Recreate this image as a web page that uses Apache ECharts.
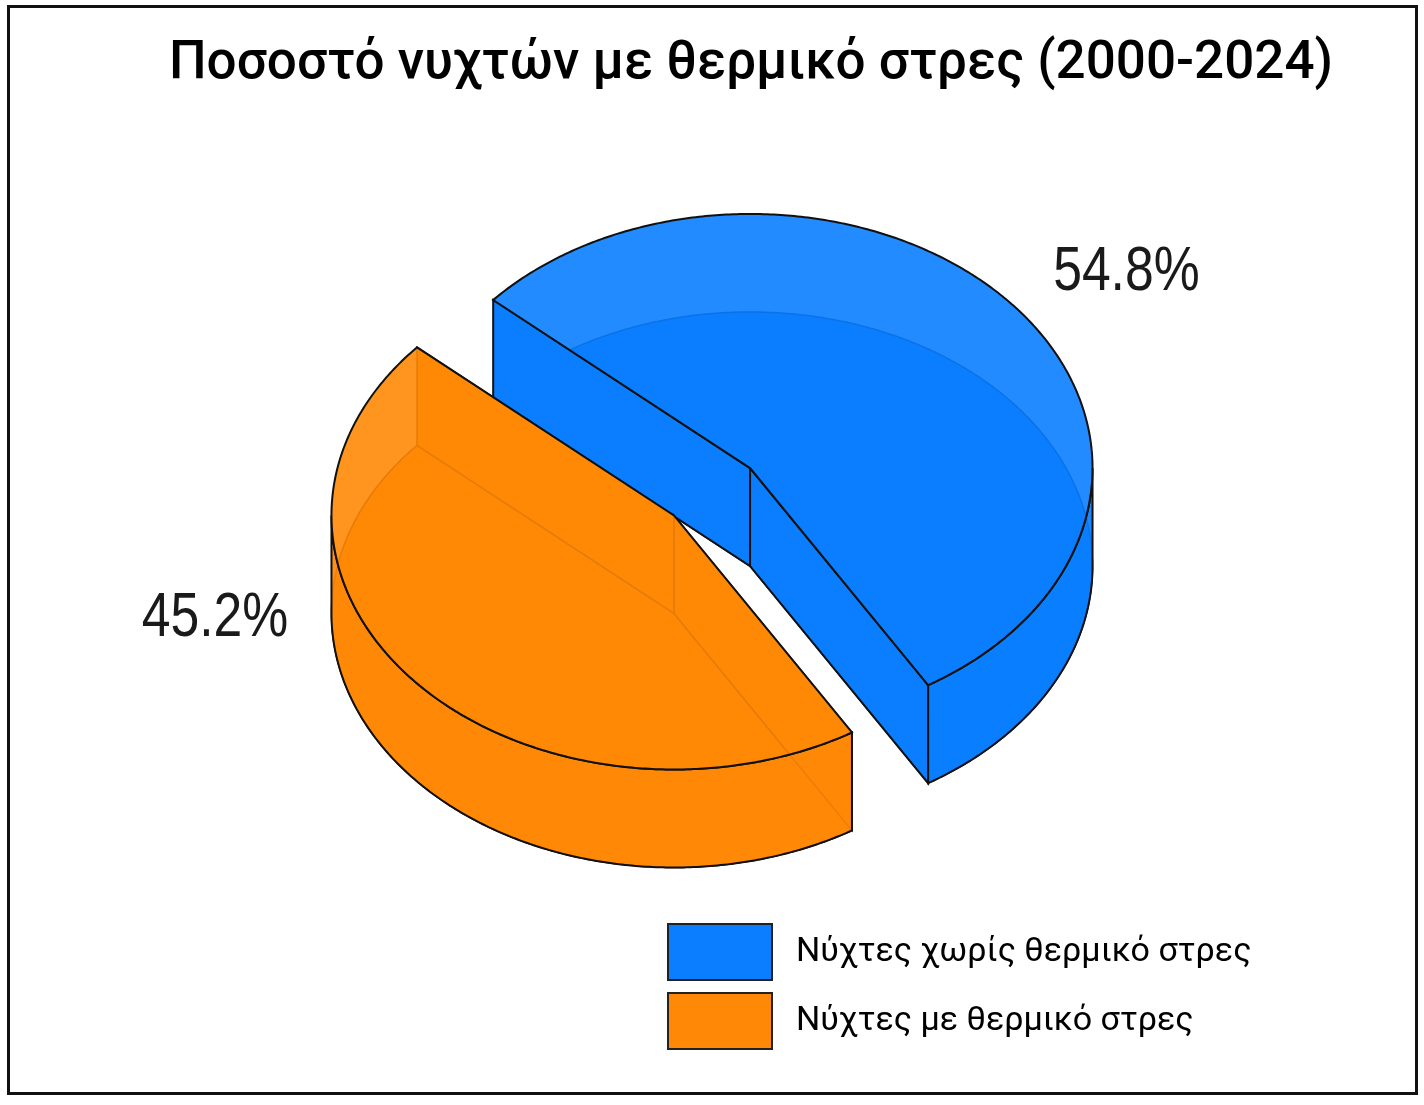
<!DOCTYPE html>
<html lang="el">
<head>
    <meta charset="utf-8" />
    <title>Ποσοστό νυχτών με θερμικό στρες</title>
    <script src="https://cdn.jsdelivr.net/npm/echarts@6/dist/echarts.min.js"></script>
    <style>
        html, body { margin: 0; padding: 0; background: #fff; }
        #box { width: 1424px; height: 1105px; }
        #frame { position: absolute; left: 7px; top: 5px; width: 1405px; height: 1084px; border: 3px solid #111; pointer-events: none; }
    </style>
</head>
<body>
<div id="box"></div>
<div id="frame"></div>
<script>
    // 数据
    var categories = ['Νύχτες χωρίς θερμικό στρες', 'Νύχτες με θερμικό στρες'];
    var values = [54.8, 45.2];
    var labels = ['54.8%', '45.2%'];
    var colors = ['#0a7eff', '#ff8806'];

    var startDeg = 221.4;   // 起始角度 (屏幕坐标, 顺时针)
    var explode = 0.145;    // 分离距离
    var labelAnchor = [[0.791, 0.247], [0.151, 0.56]];

    var total = values.reduce(function (a, b) { return a + b; }, 0);

    function renderSlice(params, api) {
        var i = params.seriesIndex;
        var W = api.getWidth(), H = api.getHeight();
        var cx = W * 0.5, cy = H * 0.445;
        var rx = W * 0.2405, ry = rx * 0.742, depth = 98;
        var before = 0;
        for (var k = 0; k < i; k++) before += values[k];
        var a0 = (startDeg + before / total * 360) * Math.PI / 180;
        var a1 = a0 + api.value(0) / total * 2 * Math.PI;
        var mid = (a0 + a1) / 2;
        var sx = cx + explode * rx * Math.cos(mid);
        var sy = cy + explode * ry * Math.sin(mid);
        var col = colors[i];

        function P(a, z) { return [sx + rx * Math.cos(a), sy + ry * Math.sin(a) + z]; }
        function arc(from, to, z) {
            var pts = [], n = Math.max(2, Math.ceil(Math.abs(to - from) / 0.01));
            for (var j = 0; j <= n; j++) pts.push(P(from + (to - from) * j / n, z));
            return pts;
        }
        function cutFace(a) {
            return [[sx, sy], P(a, 0), P(a, depth), [sx, sy + depth]];
        }

        var children = [];
        // 底面 + 背面 (被顶面半透明遮住)
        children.push({
            type: 'polygon', shape: { points: [[sx, sy + depth]].concat(arc(a0, a1, depth)) },
            style: { fill: col, stroke: '#000', lineWidth: 1.5 }
        });
        var face0Visible = Math.cos(a0) < 0;
        var face1Visible = Math.cos(a1) > 0;
        if (!face0Visible) children.push({ type: 'polygon', shape: { points: cutFace(a0) }, style: { fill: col, stroke: '#000', lineWidth: 1.5 } });
        if (!face1Visible) children.push({ type: 'polygon', shape: { points: cutFace(a1) }, style: { fill: col, stroke: '#000', lineWidth: 1.5 } });

        // 侧面 (只画朝前的部分)
        var step = Math.PI;
        var bounds = [a0];
        for (var b = Math.ceil(a0 / step) * step; b < a1; b += step) if (b > a0) bounds.push(b);
        bounds.push(a1);
        for (var s = 0; s < bounds.length - 1; s++) {
            var m = (bounds[s] + bounds[s + 1]) / 2;
            if (Math.sin(m) <= 0) continue;
            var top = arc(bounds[s], bounds[s + 1], 0);
            var bot = arc(bounds[s], bounds[s + 1], depth).reverse();
            children.push({
                type: 'polygon', shape: { points: top.concat(bot) },
                style: { fill: col, opacity: 0.93 }
            });
            children.push({
                type: 'polygon', shape: { points: top.concat(bot) },
                style: { fill: 'none', stroke: '#111', lineWidth: 2 }
            });
        }
        if (face0Visible) children.push({ type: 'polygon', shape: { points: cutFace(a0) }, style: { fill: col, stroke: '#111', lineWidth: 2 } });
        if (face1Visible) children.push({ type: 'polygon', shape: { points: cutFace(a1) }, style: { fill: col, stroke: '#111', lineWidth: 2 } });

        // 顶面
        var topPts = [[sx, sy]].concat(arc(a0, a1, 0));
        children.push({ type: 'polygon', shape: { points: topPts }, style: { fill: col, opacity: 0.9 } });
        children.push({ type: 'polygon', shape: { points: topPts }, style: { fill: 'none', stroke: '#111', lineWidth: 2 } });

        // 百分比标签 (窄体)
        children.push({
            type: 'text',
            x: W * labelAnchor[i][0], y: H * labelAnchor[i][1],
            scaleX: 0.82,
            style: {
                x: 0, y: 0,
                text: labels[i], fill: '#1a1a1a',
                font: '63px "Liberation Sans", Arial, sans-serif',
                align: 'center', verticalAlign: 'middle'
            }
        });
        return { type: 'group', children: children };
    }

    var myChart = echarts.init(document.getElementById('box'));
    var option = {
        animation: false,
        title: {
            text: 'Ποσοστό νυχτών με θερμικό στρες (2000-2024)',
            left: 746,
            textAlign: 'center',
            top: 33,
            textStyle: { fontFamily: 'Roboto', fontSize: 53, fontWeight: 500, color: '#000' }
        },
        legend: {
            orient: 'vertical',
            left: 662,
            top: 918,
            icon: 'rect',
            itemWidth: 104,
            itemHeight: 56,
            itemGap: 11,
            itemStyle: { borderColor: '#222', borderWidth: 2 },
            textStyle: { fontFamily: 'Roboto', fontSize: 34, color: '#000', padding: [0, 0, 0, 19] },
            data: categories
        },
        series: categories.map(function (name, i) {
            return {
                name: name,
                type: 'custom',
                coordinateSystem: 'none',
                itemStyle: { color: colors[i] },
                renderItem: renderSlice,
                data: [[values[i]]],
                z: 2 + i
            };
        })
    };
    myChart.setOption(option);
</script>
</body>
</html>
